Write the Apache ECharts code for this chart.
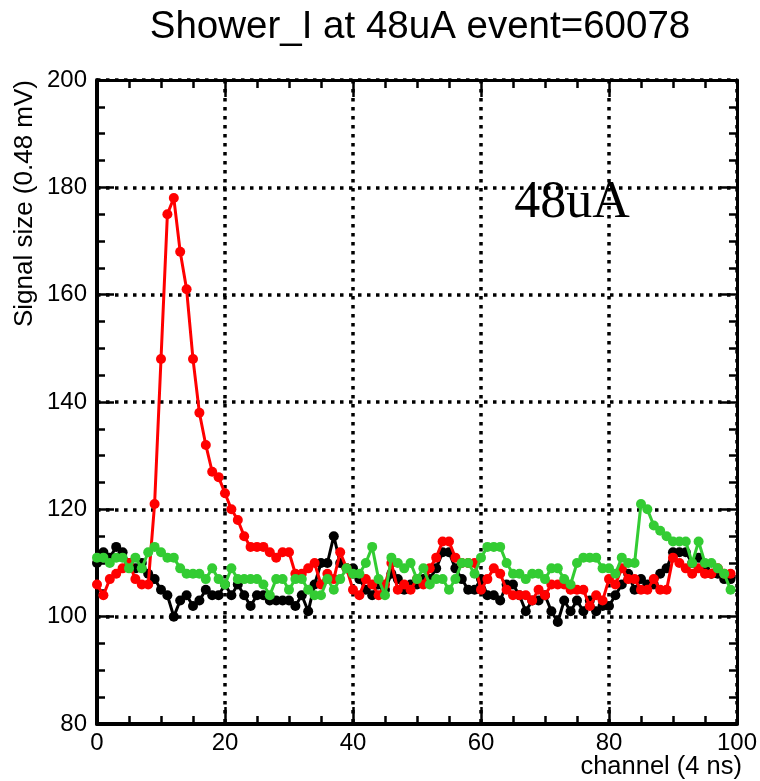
<!DOCTYPE html>
<html>
<head>
<meta charset="utf-8">
<script src="https://cdn.jsdelivr.net/npm/echarts@6/dist/echarts.min.js"></script>
<style>
html,body{margin:0;padding:0;background:#fff;}
#chart{width:760px;height:781px;}
</style>
</head>
<body>
<div id="chart"></div>
<script>
// ---- data ----
var titleText = 'Shower_I at 48uA event=60078';
var annotation = '48uA';
var xAxisName = 'channel (4 ns)';
var yAxisName = 'Signal size (0.48 mV)';
var channels = [];
for (var c = 0; c < 100; c++) channels.push(c);
var xTicks = [0, 20, 40, 60, 80, 100];
var yTicks = [80, 100, 120, 140, 160, 180, 200];

var blackValues = [
110,112,111,113,112,110,109,110,108,107,
105,104,100,103,104,102,103,105,104,104,
106,104,106,104,102,104,104,103,103,103,
103,102,104,101,106,110,110,115,110,109,
109,107,105,104,106,105,108,107,105,106,
106,107,107,109,112,112,109,107,105,105,
107,104,104,103,106,106,104,101,103,103,
104,101,99,103,101,103,101,103,101,102,
102,104,106,108,105,107,106,106,108,109,
112,112,112,110,111,109,108,108,107,107];

var redValues = [
106,104,107,108,109,110,107,106,106,121,
148,175,178,168,161,148,138,132,127,126,
123,120,118,115,113,113,113,112,111,112,
112,108,108,109,110,106,108,107,112,109,
105,104,107,106,104,106,110,105,106,105,
107,106,109,111,114,114,111,110,110,110,
105,107,109,108,105,104,104,104,103,105,
104,106,106,106,105,105,105,102,104,103,
107,106,109,107,107,105,105,107,105,105,
111,110,109,108,109,108,108,109,108,108];

var greenValues = [
111,111,110,111,111,109,111,109,112,113,
112,111,111,109,108,108,108,107,109,107,
106,109,107,107,107,107,106,104,107,107,
105,107,107,105,104,104,107,105,107,109,
108,108,110,113,107,104,111,110,109,110,
107,109,106,107,107,105,107,110,110,108,
111,113,113,113,110,108,108,107,108,108,
107,109,109,107,106,110,111,111,111,109,
109,108,111,110,110,121,120,117,116,115,
114,114,114,110,114,110,110,109,108,105];

function pairs(vals){ return channels.map(function(ch,i){ return [ch, vals[i]]; }); }

var FONT = '"Liberation Sans", Arial, Helvetica, sans-serif';
var chart = echarts.init(document.getElementById('chart'), null, {renderer:'canvas'});

function makeAxis(kind, pos, showLabel, isMain){
  var ticks = kind === 'x' ? xTicks : yTicks;
  return {
    type: 'value',
    position: pos,
    min: ticks[0], max: ticks[ticks.length-1], interval: 20,
    axisLine: {show:true, onZero:false, lineStyle:{color:'#000', width: isMain ? 4 : 3}},
    axisTick: {show:true, inside:true, length:17, lineStyle:{color:'#000', width:2.5}},
    minorTick: {show:true, splitNumber:4, length:8, lineStyle:{color:'#000', width:2.5}},
    axisLabel: {show: showLabel, color:'#000', fontFamily: FONT, fontSize: 24,
                margin: kind === 'x' ? 7 : 10},
    splitLine: {show: isMain, lineStyle:{color:'#000', width:3.5, type:[3.5,5.5]}},
    minorSplitLine: {show:false}
  };
}

var option = {
  animation: false,
  backgroundColor: '#fff',
  grid: {left: 97, right: 18, top: 80, bottom: 57, containLabel: false},
  xAxis: [makeAxis('x','bottom',true,true), makeAxis('x','top',false,false)],
  yAxis: [makeAxis('y','left',true,true), makeAxis('y','right',false,false)],
  graphic: [
    {type:'text', x: 0, y: 0,
     style:{text:titleText, x:420, y:27, align:'center', verticalAlign:'middle',
            font:'38.5px ' + FONT, fill:'#000'}},
    {type:'text', x: 0, y: 0,
     style:{text:annotation, x:572, y:203, align:'center', verticalAlign:'middle',
            font:'52px "Liberation Serif", "Times New Roman", serif', fill:'#000'}},
    {type:'text', x: 742, y: 767,
     style:{text:xAxisName, x:0, y:0, align:'right', verticalAlign:'middle',
            font:'25.5px ' + FONT, fill:'#000'}},
    {type:'text', x: 25, y: 80, rotation: Math.PI/2,
     style:{text:yAxisName, x:0, y:0, align:'right', verticalAlign:'middle',
            font:'26px ' + FONT, fill:'#000'}}
  ],
  series: [
    {name:'black', type:'line', data: pairs(blackValues), symbol:'circle', symbolSize:10,
     itemStyle:{color:'#000'}, lineStyle:{color:'#000', width:3}, z:2},
    {name:'red', type:'line', data: pairs(redValues), symbol:'circle', symbolSize:10,
     itemStyle:{color:'#ff0000'}, lineStyle:{color:'#ff0000', width:3}, z:3},
    {name:'green', type:'line', data: pairs(greenValues), symbol:'circle', symbolSize:10,
     itemStyle:{color:'#33cc33'}, lineStyle:{color:'#33cc33', width:3}, z:4}
  ]
};
chart.setOption(option);
</script>
</body>
</html>
